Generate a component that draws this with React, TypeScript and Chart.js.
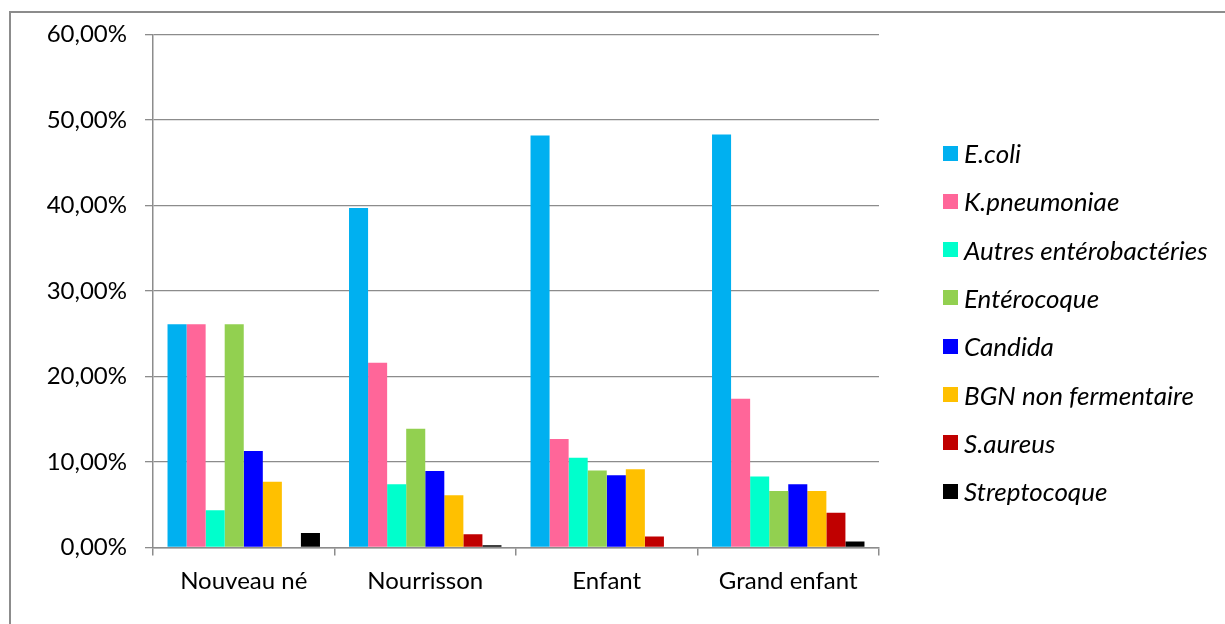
import React, { useEffect, useRef } from "react";
import { Chart, registerables } from "chart.js";

Chart.register(...registerables);

// Age groups on the x axis
const categories = ["Nouveau né", "Nourrisson", "Enfant", "Grand enfant"];

// Share of each germ per age group (%)
const eColi = [26.1, 39.7, 48.2, 48.3];
const kPneumoniae = [26.1, 21.6, 12.7, 17.4];
const autresEnterobacteries = [4.35, 7.4, 10.5, 8.3];
const enterocoque = [26.1, 13.9, 9.0, 6.6];
const candida = [11.3, 8.95, 8.45, 7.4];
const bgnNonFermentaire = [7.7, 6.1, 9.15, 6.6];
const sAureus = [0, 1.55, 1.3, 4.05];
const streptocoque = [1.7, 0.26, 0, 0.7];

const seriesNames = [
  "E.coli",
  "K.pneumoniae",
  "Autres entérobactéries",
  "Entérocoque",
  "Candida",
  "BGN non fermentaire",
  "S.aureus",
  "Streptocoque",
];
const seriesValues = [
  eColi,
  kPneumoniae,
  autresEnterobacteries,
  enterocoque,
  candida,
  bgnNonFermentaire,
  sAureus,
  streptocoque,
];
const seriesColors = [
  "#00B0F0",
  "#FF6699",
  "#00FFCC",
  "#92D050",
  "#0000FF",
  "#FFC000",
  "#C00000",
  "#000000",
];

// y axis ticks (%)
const yMin = 0;
const yMax = 60;
const yStep = 10;

const FONT = "Lato, 'Open Sans', sans-serif";
const GRID = "#8c8c8c";

export default function App() {
  const canvasRef = useRef<HTMLCanvasElement | null>(null);

  useEffect(() => {
    const canvas = canvasRef.current;
    if (!canvas) return;
    const chart = new Chart(canvas, {
      type: "bar",
      data: {
        labels: categories,
        datasets: seriesNames.map((name, i) => ({
          label: name,
          data: seriesValues[i],
          backgroundColor: seriesColors[i],
          borderWidth: 0,
          categoryPercentage: 0.84,
          barPercentage: 1,
        })),
      },
      options: {
        responsive: false,
        animation: false,
        layout: { padding: { left: 0, right: 346, top: 34.5, bottom: 26.5 } },
        plugins: {
          legend: { display: false },
          tooltip: { enabled: false },
        },
        scales: {
          x: {
            offset: true,
            afterFit: (scale: any) => {
              scale.height = 50;
            },
            grid: {
              offset: true,
              drawOnChartArea: false,
              drawTicks: true,
              tickLength: 8,
              color: GRID,
              lineWidth: 1.5,
            },
            border: { display: true, color: GRID, width: 1.5 },
            ticks: {
              color: "#000",
              padding: 11,
              maxRotation: 0,
              font: { family: FONT, size: 24 },
            },
          },
          y: {
            min: yMin,
            max: yMax,
            afterFit: (scale: any) => {
              scale.width = 153;
            },
            grid: {
              color: GRID,
              lineWidth: 1.3,
              tickLength: 8,
            },
            border: { display: true, color: GRID, width: 1.5 },
            ticks: {
              stepSize: yStep,
              color: "#000",
              padding: 18,
              font: { family: FONT, size: 24 },
              callback: (v: any) => `${Number(v).toFixed(2).replace(".", ",")}%`,
            },
          },
        },
      },
    });
    return () => chart.destroy();
  }, []);

  return (
    <div
      style={{
        position: "fixed",
        left: 0,
        top: 0,
        width: 1225,
        height: 624,
        overflow: "hidden",
        background: "#fff",
      }}
    >
      <div
        style={{
          position: "absolute",
          left: 9,
          top: 11,
          width: 1400,
          height: 800,
          border: `2px solid ${GRID}`,
          boxSizing: "border-box",
        }}
      />
      <canvas
        ref={canvasRef}
        width={1225}
        height={624}
        style={{ position: "absolute", left: 0, top: 0 }}
      />
      {seriesNames.map((name, i) => (
        <div
          key={name}
          style={{
            position: "absolute",
            left: 943,
            top: 153 + i * 48.3 - 15,
            height: 30,
            display: "flex",
            alignItems: "center",
            fontFamily: FONT,
            fontStyle: "italic",
            fontSize: 26,
            color: "#000",
            whiteSpace: "nowrap",
          }}
        >
          <span
            style={{
              display: "inline-block",
              width: 15,
              height: 15,
              background: seriesColors[i],
              marginRight: 6,
            }}
          />
          {name}
        </div>
      ))}
    </div>
  );
}
